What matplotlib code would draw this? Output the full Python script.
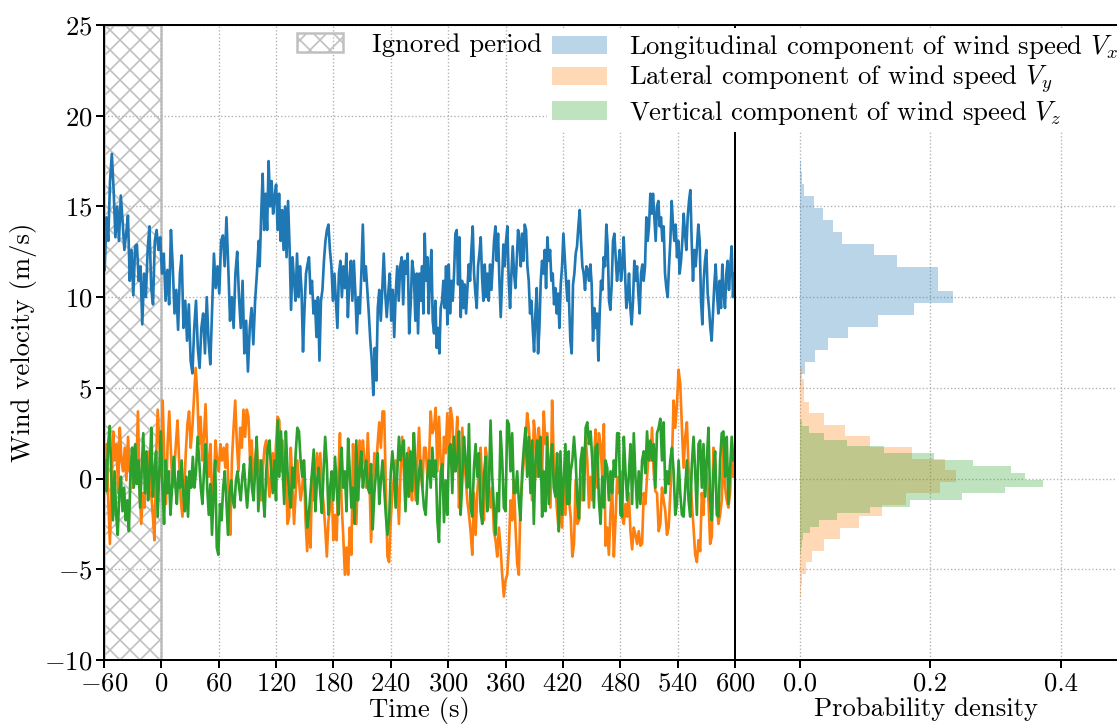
import numpy as np
import matplotlib.pyplot as plt
from matplotlib.patches import Patch

plt.rcParams['font.family'] = 'serif'
plt.rcParams['font.serif'] = ['cmr10']
plt.rcParams['mathtext.fontset'] = 'cm'
plt.rcParams['axes.formatter.use_mathtext'] = True
plt.rcParams['font.size'] = 16

# wind speed traces (m/s), four time blocks each
vx_spans = [(-59.3, 101.8), (102.8, 263.9), (264.3, 426.1), (426.4, 599.3)]
vx_1 = [11.5, 14.4, 13.1, 16.4, 17.9, 15.9, 13.3, 15.0, 13.1, 15.6, 14.2, 12.6, 13.5, 14.5, 10.9, 12.6, 10.1, 12.8,
        12.9, 10.9, 11.7, 8.5, 11.3, 10.0, 12.6, 13.9, 10.5, 9.6, 13.1, 13.7, 12.6, 13.3, 11.3, 12.4, 9.8, 11.5, 9.6,
        13.7, 11.7, 9.1, 10.4, 8.2, 11.3, 12.3, 8.3, 9.8, 7.6, 9.6, 6.5, 5.8, 8.3, 9.8, 7.2, 6.1, 8.3, 9.1, 6.9, 10.0,
        7.6, 6.3, 9.4, 12.4, 10.5, 11.7, 10.2, 13.1, 13.4, 11.7, 14.4, 11.7, 8.7, 10.0, 8.3, 11.3, 12.5, 10.0, 8.3,
        10.9, 6.9, 8.7, 5.9, 8.3, 9.4, 7.4, 9.8, 11.3, 13.1]
vx_2 = [11.7, 14.4, 16.8, 13.7, 15.7, 13.7, 17.5, 15.0, 16.4, 14.6, 15.5, 16.2, 13.7, 15.7, 13.1, 14.8, 12.6, 15.0,
        12.2, 15.3, 12.8, 9.3, 12.2, 10.9, 9.8, 12.4, 10.0, 11.7, 10.4, 7.0, 9.4, 11.3, 11.8, 12.2, 10.2, 10.9, 9.1,
        9.8, 7.8, 10.0, 6.5, 9.8, 10.4, 12.0, 13.1, 13.7, 14.0, 12.6, 11.7, 9.8, 11.3, 9.8, 8.3, 11.3, 12.0, 10.0,
        11.7, 10.5, 12.4, 8.9, 10.9, 12.0, 9.8, 12.0, 10.2, 8.0, 10.0, 9.1, 11.3, 14.0, 10.9, 11.7, 10.4, 9.1, 7.6,
        6.5, 4.6, 7.2, 5.4, 9.4, 10.4, 8.7, 10.4, 12.4, 10.2, 8.9, 10.2, 11.3, 8.7, 10.4, 7.8, 10.2, 11.7, 9.8, 11.7,
        12.2, 9.6, 12.0, 11.3, 12.4, 8.0, 9.6, 12.0, 11.3]
vx_3 = [10.9, 8.7, 11.3, 8.0, 11.3, 9.8, 11.7, 9.1, 13.5, 10.9, 12.2, 9.1, 11.3, 12.6, 8.7, 8.0, 9.8, 7.2, 8.3, 6.9,
        9.4, 9.8, 10.9, 9.4, 11.7, 8.5, 11.8, 9.1, 10.9, 9.8, 11.3, 13.5, 13.7, 10.7, 13.3, 8.9, 10.9, 9.4, 10.7, 9.1,
        10.5, 11.8, 10.9, 12.6, 13.9, 11.3, 10.2, 9.4, 11.7, 12.4, 13.3, 11.1, 9.8, 11.8, 10.0, 11.3, 9.8, 11.8, 10.4,
        11.7, 13.1, 13.9, 12.0, 13.5, 10.9, 8.9, 10.9, 12.9, 11.7, 13.1, 13.9, 10.9, 9.4, 11.3, 12.8, 11.3, 10.5,
        12.0, 13.7, 13.1, 11.7, 13.5, 12.0, 14.0, 13.7, 11.7, 10.9, 9.1, 9.8, 8.3, 7.0, 9.1, 10.5, 6.9, 8.3, 10.9,
        12.0, 11.3, 12.6, 10.5, 13.3, 12.0, 12.6, 10.9, 11.3, 9.6, 10.5, 9.1, 10.2, 8.3, 10.7, 11.7, 13.5, 12.2,
        10.9, 9.8, 10.9]
vx_4 = [9.8, 7.6, 6.9, 10.7, 11.3, 12.4, 12.8, 13.9, 14.8, 13.1, 11.7, 11.3, 10.4, 11.7, 11.5, 10.9, 11.8, 10.7, 7.6,
        9.4, 8.3, 9.1, 6.5, 9.1, 10.9, 10.4, 12.2, 11.7, 14.0, 12.8, 9.8, 9.3, 10.7, 13.1, 13.5, 12.2, 10.9, 11.7,
        12.6, 10.9, 11.7, 13.3, 11.3, 9.4, 10.0, 11.3, 9.4, 8.5, 9.8, 12.0, 10.9, 11.7, 10.2, 9.1, 11.3, 11.8, 10.9,
        11.7, 14.4, 13.1, 13.9, 15.7, 14.6, 15.7, 14.4, 13.1, 15.0, 15.3, 13.9, 14.4, 13.1, 13.9, 11.3, 10.5, 10.0,
        11.7, 13.1, 15.3, 14.0, 13.1, 14.0, 12.2, 13.1, 11.3, 12.0, 13.1, 14.6, 13.5, 12.6, 14.4, 15.3, 15.9, 13.1,
        10.9, 12.6, 11.7, 12.8, 14.0, 13.1, 9.8, 8.5, 10.9, 12.0, 12.6, 10.2, 9.4, 8.3, 7.6, 9.1, 10.7, 11.8, 10.2,
        9.1, 10.9, 9.4, 11.8, 10.2, 9.4, 11.3, 12.0, 10.4, 11.7, 12.8, 10.0, 11.3]

vyz_spans = [(-59.0, 101.4), (102.8, 263.9), (264.3, 426.1), (426.4, 598.3)]
vy_1 = [0.4, 1.9, -1.2, -3.6, -0.5, 2.6, 1.0, 1.9, -0.8, 2.8, 1.0, 0.4, 1.7, -0.1, 2.3, 0.4, 1.0, -0.5, 1.7, 0.3,
        3.7, -0.5, -2.5, -0.8, -1.6, 1.0, 0.1, 1.5, -0.8, -2.0, -3.4, 1.0, 3.8, 1.9, 0.1, 4.3, 1.0, -1.4, 1.9, 3.7,
        1.5, -0.5, 0.4, 1.9, 3.2, 1.0, -1.2, -2.1, -0.8, 1.4, 3.0, 3.7, 1.7, 2.8, 4.5, 6.1, 4.7, 1.9, 3.4, 1.0, 2.3,
        4.1, 1.4, 0.1, 1.9, -1.2, -0.5, 2.1, 1.0, 0.4, 1.9, 1.0, 1.7, 0.6, 1.9, -0.8, -3.1, 1.0, 2.8, 4.3, 1.9, 0.4,
        2.8, 1.7, 3.8, 2.3, 3.8, 3.4, 1.0, 2.1, -0.5, 1.0, 1.9, 0.4]
vy_2 = [1.0, -1.2, 0.6, 1.7, 2.1, 0.1, -1.0, 0.4, 1.4, 0.1, 1.9, 3.4, 3.2, 0.4, 2.1, -0.5, 0.6, -2.5, -2.1, 1.7,
        -0.5, -2.5, -0.8, 1.0, -0.1, -1.2, -0.5, 1.0, -2.3, -4.0, -2.0, -3.8, 0.1, -1.2, 0.4, 1.4, 0.1, 1.4, -0.5,
        -1.4, -2.7, -4.3, -2.3, -1.6, -0.5, -3.4, -2.0, -3.4, 0.1, 2.5, -1.4, -3.1, -5.3, -3.8, -5.3, -2.7, -4.2,
        1.9, -0.5, -2.5, 0.4, 2.1, 0.1, 2.1, 1.0, -0.5, 2.5, 0.1, -3.5, -0.8, 1.4, 0.4, 1.9, 3.1, 1.7, 3.7, 3.7,
        -0.5, -4.3, -4.6, -2.3, -0.8, 0.1, 1.0, -0.5, -2.5, 0.4, 2.3, 0.3, -1.6, 0.1, 1.7, -0.1, -1.2, 2.5]
vy_3 = [0.4, -1.2, 1.0, 2.8, 0.4, -0.5, 1.7, 1.7, 0.1, 1.0, 3.7, 2.5, 2.8, 3.9, 0.4, 3.4, 1.0, -0.3, 2.3, 1.4, 3.6,
        1.4, 3.9, 3.2, 0.4, 1.7, 3.4, -1.6, -0.1, 2.8, 1.0, 0.1, -1.2, -2.0, -2.9, -4.2, -0.8, -3.1, -0.8, 0.4, 1.7,
        -0.5, -2.3, 1.7, 1.0, -0.5, -1.6, -0.5, -2.9, -3.4, -4.3, -2.7, -3.8, -5.3, -6.5, -5.6, -5.3, -3.8, -1.2,
        -2.3, -0.1, -2.7, -4.7, -5.3, -1.2, -0.1, 1.0, 1.9, 3.6, 2.8, 1.4, -1.2, 3.2, 2.3, 0.1, 2.8, 1.4, 0.4, 3.7,
        1.9, 2.5, 0.4, -1.6, 4.3, 1.0, -0.5, -1.8, -2.9, -0.8, -2.7, -0.1, -2.0, 1.0, 0.4]
vy_4 = [-1.2, -2.1, -4.3, -3.6, -0.1, -2.5, -2.3, 0.1, -1.2, 1.0, 2.3, 1.0, -1.6, 0.1, -1.2, 1.0, 2.7, -0.5, 2.5,
        1.9, 0.1, 3.0, -3.7, -2.7, -4.2, -1.8, -0.5, -4.3, -2.3, 0.1, -0.8, 0.4, -2.1, -2.5, -1.4, -2.1, -0.8, -2.9,
        -3.9, -2.7, -3.1, -3.6, -2.9, -3.7, -3.6, -0.8, -1.4, 0.1, 1.4, 1.0, 2.8, 0.4, -0.7, -0.8, -2.9, -2.5, -0.5,
        -1.2, -1.8, -3.1, -2.7, -0.8, 1.0, 4.3, 2.8, 4.1, 6.0, 5.2, 2.8, 0.6, 2.3, 3.1, 0.6, 0.1, -1.4, -2.7, -4.2,
        -4.6, -3.4, -4.0, -0.8, -2.0, 1.0, 0.1, -1.2, -3.6, -3.2, 1.7, 1.0, -1.4, -2.5, -2.0, -1.2, 2.1, -0.5, -1.2,
        -1.6, -0.8, 1.7, 0.1]
vz_1 = [1.0, -0.7, 1.9, 2.9, 0.1, -2.3, 0.4, -2.0, -3.1, -0.8, 0.1, -1.8, -0.5, -2.3, -1.2, -2.9, 0.4, 1.7, -0.5,
        1.9, -0.3, 1.0, -1.6, 0.4, 2.5, -0.8, 1.5, -1.2, 0.4, 2.8, -1.0, 0.4, 1.5, -2.1, 0.4, 2.6, -0.5, -2.5, 1.0,
        -0.8, 0.4, -2.0, -0.5, 1.2, -0.3, -1.4, 0.4, -0.5, 1.0, -0.8, -1.8, 0.1, -2.1, 0.4, -0.5, 1.2, -0.5, 0.4,
        2.3, 1.0, -0.5, -1.4, 0.4, 1.9, -0.5, -2.0, -0.3, -3.1, -0.8, 1.0, -3.8, -4.2, -1.4, -2.3, -0.5, 0.4, -1.2,
        -3.1, -0.8, -0.1, -1.2, -1.6, -0.1, 0.4, -0.5, -1.2, 0.1, 0.8, -0.5, -1.6, -0.3, 1.2, -0.5, -1.2, 0.4, 2.3,
        -1.8]
vz_2 = [-0.5, 1.0, -0.8, -2.1, 0.4, 1.7, 2.1, 0.4, -0.8, 1.0, -1.2, 3.2, 0.1, 2.6, 0.6, -1.4, 2.6, 0.4, -0.8, -1.6,
        0.6, -0.5, 1.4, 2.8, 2.6, 1.0, 0.1, 1.0, -0.8, -2.7, -2.0, -0.8, 0.4, 1.6, -1.8, -0.1, 0.6, -0.8, -1.9, 0.4,
        2.3, 0.8, -2.0, -0.5, 0.4, -1.2, 1.2, -0.5, -2.0, 0.4, 1.7, -0.5, 0.4, -1.8, 2.2, 0.4, -1.6, -0.5, -2.5, 2.1,
        -1.2, 0.4, 1.5, -0.5, 0.3, 1.0, -0.5, -0.8, 0.8, -2.8, -0.8, 0.3, 1.4, -1.4, -0.1, 1.0, -0.5, -2.0, -3.1,
        -2.3, 0.3, 1.5, 0.4, -1.6, 0.4, 2.3, 1.0, 1.7, 2.1, -1.8, 1.4, -1.0, 1.5, -0.7, 2.5]
vz_3 = [2.5, 0.1, -1.4, 0.4, 1.0, -0.5, -1.6, -2.0, 0.1, 1.0, -0.5, 1.7, 0.1, 1.0, -2.3, -3.5, 0.4, 0.8, -2.4, -0.1,
        -2.0, 1.7, 1.9, -0.8, 2.3, 0.4, 1.0, 2.6, -2.0, -0.1, 2.3, 1.0, -0.5, 3.0, -1.6, -2.1, 0.6, 1.9, 0.1, 1.4,
        -1.8, -2.5, 0.1, 1.2, -1.8, -0.5, 3.2, 0.1, -1.6, -3.1, -0.8, -1.8, 2.6, 1.0, -1.6, -1.8, 3.2, 3.0, 0.4, 2.5,
        -0.8, -0.8, 0.4, -1.2, -2.3, 0.4, 1.7, 2.8, 0.1, 2.3, -0.8, 2.1, -2.5, 1.0, 2.1, 0.1, 2.3, -2.1, 0.4, -1.8,
        2.3, -1.4, 1.0, 1.9, -0.5, -1.0, 1.4, -2.9, 1.5, -2.0, -0.1, 1.9, -1.4, 1.5]
vz_4 = [-1.4, 0.4, 1.0, 2.3, 1.0, -1.2, -2.2, 1.0, 1.7, -1.2, 2.8, 3.1, 1.9, 2.6, 1.0, -1.6, 1.7, 1.9, -1.2, -2.5,
        0.1, -1.6, 1.0, 0.6, -1.2, 0.4, -0.8, 1.0, 0.1, 2.5, 2.5, -2.0, -2.1, 2.3, 0.4, -1.2, 0.1, 1.9, -1.4, 2.5,
        0.1, -1.6, 0.4, -1.4, 1.0, 1.5, 0.3, 2.6, 1.0, 2.1, 1.0, 1.9, -0.5, 2.5, 2.8, 3.3, 1.0, 3.1, -0.8, 0.4, -0.3,
        1.0, 1.7, 0.4, -2.0, -1.4, 1.0, -0.8, -2.0, -2.1, -0.5, 1.0, -1.2, -2.1, 0.8, 2.3, 0.4, -2.0, 1.9, 2.1, -0.5,
        1.9, -1.0, 1.0, 2.8, -1.2, -2.3, 0.4, 1.5, -2.0, -2.1, 1.0, 2.5, 2.6, 0.1, 2.3, -1.4, 0.4, 2.3, 1.0]

# histogram densities, 20 bins each, listed from the top bin down
vx_range = (17.53, 4.46)
vx_dens = [0.001, 0.003, 0.006, 0.021, 0.035, 0.051, 0.064, 0.113, 0.149, 0.212,
           0.212, 0.235, 0.175, 0.120, 0.074, 0.043, 0.023, 0.008, 0.001, 0.0005]
vy_range = (6.14, -6.50)
vy_dens = [0.003, 0.006, 0.006, 0.014, 0.037, 0.069, 0.108, 0.172, 0.223, 0.239,
           0.214, 0.163, 0.125, 0.091, 0.062, 0.037, 0.018, 0.009, 0.003, 0.0015]
vz_range = (3.25, -4.13)
vz_dens = [0.003, 0.014, 0.037, 0.072, 0.129, 0.205, 0.265, 0.323, 0.345, 0.372,
           0.315, 0.249, 0.169, 0.108, 0.057, 0.029, 0.015, 0.005, 0.003, 0.0015]

colors = ['tab:blue', 'tab:orange', 'tab:green']
labels = [r'Longitudinal component of wind speed $V_x$',
          r'Lateral component of wind speed $V_y$',
          r'Vertical component of wind speed $V_z$']


def join_blocks(spans, blocks):
    t, v = [], []
    for (t0, t1), vals in zip(spans, blocks):
        t.append(np.linspace(t0, t1, len(vals)))
        v.append(np.asarray(vals))
    return np.concatenate(t), np.concatenate(v)


W, H, DPI = 1117, 725, 120
fig = plt.figure(figsize=(W / DPI, H / DPI), dpi=DPI)
ax = fig.add_axes([104 / W, 65 / H, 631 / W, 635 / H])
axh = fig.add_axes([735 / W, 65 / H, 382 / W, 635 / H], sharey=ax)

ax.axvspan(-60, 0, facecolor='none', edgecolor='silver', hatch='xx', lw=1.5, zorder=0.5)

series = [join_blocks(vx_spans, [vx_1, vx_2, vx_3, vx_4]),
          join_blocks(vyz_spans, [vy_1, vy_2, vy_3, vy_4]),
          join_blocks(vyz_spans, [vz_1, vz_2, vz_3, vz_4])]
for (t, v), c in zip(series, colors):
    ax.plot(t, v, color=c, lw=1.6)

for (top, bot), dens, c in zip([vx_range, vy_range, vz_range], [vx_dens, vy_dens, vz_dens], colors):
    edges = np.linspace(top, bot, len(dens) + 1)
    axh.barh(edges[1:], dens, height=edges[0] - edges[1], align='edge', color=c, alpha=0.3, lw=0)

ax.set_xlim(-60, 600)
ax.set_ylim(-10, 25)
ax.set_xticks(np.arange(-60, 601, 60))
ax.set_yticks(np.arange(-10, 26, 5))
ax.set_xlabel('Time (s)', labelpad=1)
ax.set_ylabel('Wind velocity (m/s)')
ax.spines['right'].set_visible(False)

axh.set_xlim(-0.0996, 0.486)
axh.set_xticks([0.0, 0.2, 0.4])
axh.set_xticklabels(['0.0', '0.2', '0.4'])
axh.set_xlabel('Probability density', labelpad=1)
axh.spines['right'].set_visible(False)
axh.tick_params(axis='y', left=False, labelleft=False)

for a in (ax, axh):
    a.grid(True, ls=':', color='#b0b0b0', lw=0.8)
    a.set_axisbelow(True)
    a.tick_params(direction='out', length=5, width=1.2, pad=2)
    for s in a.spines.values():
        s.set_linewidth(1.2)

h_ign = Patch(facecolor='none', edgecolor='silver', hatch='xx', lw=1.5, label='Ignored period')
fig.legend(handles=[h_ign], loc='upper left', bbox_to_anchor=(292 / W, 1 - 28 / H),
           frameon=False, handlelength=1.7, handletextpad=1.1, borderpad=0.2, borderaxespad=0)
h_hist = [Patch(color=c, alpha=0.3, lw=0, label=l) for c, l in zip(colors, labels)]
fig.legend(handles=h_hist, loc='upper left', bbox_to_anchor=(547 / W, 1 - 28 / H),
           frameon=True, facecolor='white', edgecolor='none', framealpha=1, fancybox=False,
           handlelength=2.06, handletextpad=0.8, labelspacing=0.1, borderpad=0.2, borderaxespad=0)

fig.savefig('out.png', dpi=DPI)
